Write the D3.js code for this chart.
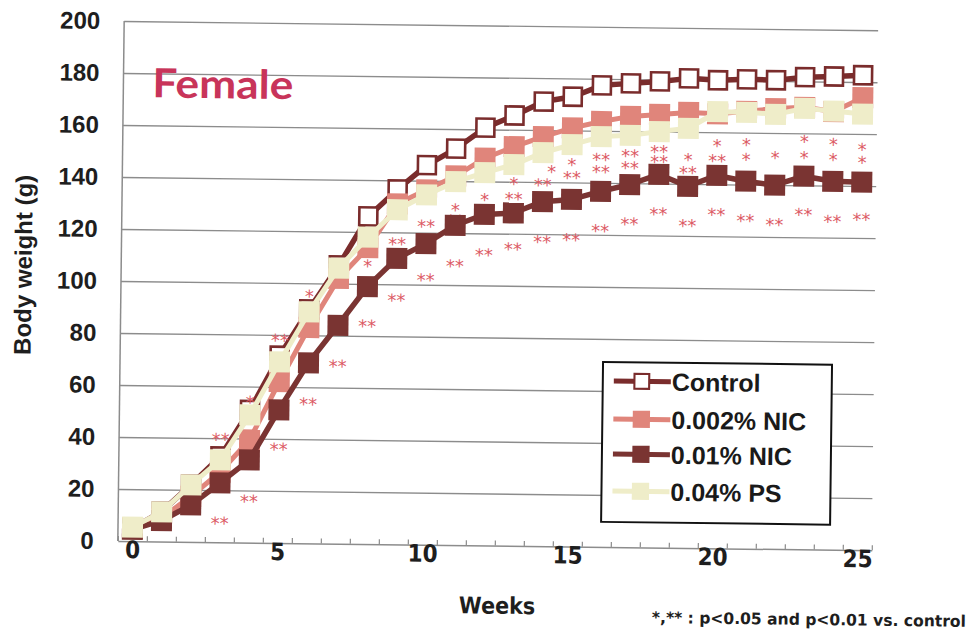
<!DOCTYPE html>
<html>
<head>
<meta charset="utf-8">
<script src="https://cdn.jsdelivr.net/npm/d3@7"></script>
<style>
  body { margin: 0; background: #fff; }
  svg { display: block; }
</style>
</head>
<body>
<svg id="chart" width="977" height="633"></svg>
<script>
// ---- data: female body weight (g) by week ----
const weeks = d3.range(0, 26);
const control = [5, 11.5, 22, 33, 51, 72, 90, 107, 126, 136.5, 146, 152.5, 160.7, 165.5, 171, 173,
                 177.5, 178.4, 179.3, 180.6, 180, 180.5, 180.3, 181.6, 182, 182.6];
const nic002  = [5, 9, 17.5, 27, 39.5, 62, 83, 102, 114, 131, 136.5, 142, 149, 153.5, 157.5, 161,
                 163.6, 165.7, 166.6, 167.5, 167.1, 168.2, 169.4, 170, 168.5, 174];
const nic01   = [4.5, 8, 14.2, 22.8, 31.8, 51.2, 69.4, 84, 99, 110, 115.8, 123, 127.3, 128, 132.5, 133.5,
                 136.7, 139.5, 143.5, 139.1, 143.4, 141.3, 139.9, 143.5, 141.7, 141.5];
const ps004   = [5.4, 11.4, 21.9, 31.7, 49.1, 69.6, 89, 106, 118, 128.7, 134.6, 139.8, 143.4, 146.6, 151.4,
                 154.6, 157.8, 158.4, 160, 161.4, 167.9, 167.8, 167.2, 169.6, 168.7, 167.7];
const seriesNames = ["Control", "0.002% NIC", "0.01% NIC", "0.04% PS"];

const yTicks = d3.range(0, 201, 20);
const xTickLabels = [0, 5, 10, 15, 20, 25];

// significance marks vs. control: week, height (g), label
const starWeeks  = [3, 3, 4, 4, 5, 5, 6, 6, 7, 8, 8, 9, 9, 10, 10, 11, 11, 11, 12, 12, 13, 13, 13,
                    14, 14, 14.3, 15, 15, 15, 16, 16, 16, 17, 17, 17, 18, 18, 18, 19, 19, 19,
                    20, 20, 20, 21, 21, 21, 22, 22, 23, 23, 23, 24, 24, 24, 25, 25, 25];
const starValues = [8.6, 40.8, 17.2, 55.3, 37.3, 79.2, 54.8, 96.3, 69.5, 85.1, 108.2, 95.2, 116.8, 103.1, 123.8,
                    108.6, 125.9, 130.2, 113, 134.2, 115.4, 134.7, 140.5,
                    118.3, 140.2, 145.3, 119.2, 143.1, 148.1, 122.8, 145.5, 150.2, 125.6, 147.2, 151.8,
                    129.6, 149.7, 153.5, 125.2, 145.6, 150.6, 129.6, 150.3, 156.1, 127.4, 150.9, 156.6,
                    126, 151.8, 130, 151.9, 158.1, 127.5, 151.3, 157.1, 128.4, 150.3, 155.3];
const starLabels = ["**", "**", "**", "*", "**", "**", "**", "*", "**", "**", "*", "**", "**", "**", "**",
                    "**", "**", "*", "**", "*", "**", "**", "*",
                    "**", "**", "*", "**", "**", "*", "**", "**", "**", "**", "**", "**",
                    "**", "**", "**", "**", "**", "*", "**", "**", "*", "**", "*", "*",
                    "**", "*", "**", "*", "*", "**", "*", "*", "**", "*", "*"];

// ---- layout ----
const plot = { left: 121, right: 875, top: 21, bottom: 541 };
const x = d3.scaleLinear().domain([-0.5, 25.5]).range([plot.left, plot.right]);
const y = d3.scaleLinear().domain([0, 200]).range([plot.bottom, plot.top]);

const svg = d3.select("#chart");
svg.append("rect").attr("width", 977).attr("height", 633).attr("fill", "#fff");
const g = svg.append("g").attr("transform", "rotate(0.7,121,281)");

const boldSans = "'Liberation Sans', Arial, sans-serif";
const narrow = "'Liberation Sans Narrow', 'DejaVu Sans Condensed', 'Liberation Sans', sans-serif";

// gridlines
const grid = g.append("g").attr("transform", `translate(${plot.left},0)`)
  .call(d3.axisLeft(y).tickValues(yTicks.filter(v => v > 0))
        .tickSize(-(plot.right - plot.left)).tickFormat(""));
grid.select(".domain").remove();
grid.selectAll("line").attr("stroke", "#8c8c8c").attr("stroke-width", 1.3);

// left axis line
g.append("line").attr("x1", plot.left).attr("x2", plot.left)
  .attr("y1", plot.top).attr("y2", plot.bottom)
  .attr("stroke", "#8c8c8c").attr("stroke-width", 1.5);

// y tick labels
const yAx = g.append("g").attr("transform", `translate(${plot.left},0)`)
  .call(d3.axisLeft(y).tickValues(yTicks).tickSize(0).tickPadding(24));
yAx.select(".domain").remove();
yAx.selectAll("text").attr("font-family", boldSans).attr("font-weight", "bold")
  .attr("font-size", 24).attr("fill", "#1e1e1e");

// bottom axis with category ticks
const xMinor = g.append("g").attr("transform", `translate(0,${plot.bottom})`)
  .call(d3.axisBottom(x).tickValues(d3.range(-0.5, 25.6, 1))
        .tickSizeInner(-5).tickSizeOuter(0).tickFormat(""));
xMinor.select(".domain").attr("stroke", "#8c8c8c").attr("stroke-width", 1.5);
xMinor.selectAll("line").attr("stroke", "#8c8c8c").attr("stroke-width", 1.2);

// x tick labels
const xAx = g.append("g").attr("transform", `translate(0,${plot.bottom})`)
  .call(d3.axisBottom(x).tickValues(xTickLabels).tickSize(0).tickPadding(0));
xAx.select(".domain").remove();
xAx.selectAll("text").attr("font-family", narrow).attr("font-weight", "bold")
  .attr("font-size", 24).attr("fill", "#1e1e1e");

// axis titles and notes
g.append("text").attr("transform", "translate(23,266) rotate(-90)")
  .attr("text-anchor", "middle").attr("dominant-baseline", "central")
  .attr("font-family", boldSans).attr("font-weight", "bold").attr("font-size", 24)
  .attr("fill", "#1e1e1e").text("Body weight (g)");

g.append("text").attr("x", 501).attr("y", 601)
  .attr("text-anchor", "middle").attr("dominant-baseline", "central")
  .attr("font-family", narrow).attr("font-weight", "bold").attr("font-size", 23)
  .attr("fill", "#1e1e1e").text("Weeks");

g.append("text").attr("x", 656).attr("y", 611)
  .attr("dominant-baseline", "central")
  .attr("font-family", narrow).attr("font-weight", "bold").attr("font-size", 16)
  .attr("textLength", 314).attr("lengthAdjust", "spacingAndGlyphs")
  .attr("fill", "#1e1e1e").text("*,** : p<0.05 and p<0.01 vs. control");

g.append("text").attr("x", 150).attr("y", 97)
  .attr("font-family", "Lato, 'Open Sans', sans-serif").attr("font-weight", "bold")
  .attr("font-size", 40).attr("textLength", 141).attr("lengthAdjust", "spacingAndGlyphs")
  .attr("fill", "#c8345a").text("Female");

// ---- series ----
const series = [
  { name: seriesNames[0], values: control, line: "#7a2c2c", fill: "#ffffff", stroke: "#7a2c2c", size: 18, sw: 2.6, lw: 5.5 },
  { name: seriesNames[1], values: nic002,  line: "#e0857b", fill: "#e0857b", stroke: "none",    size: 21, sw: 0,   lw: 5 },
  { name: seriesNames[2], values: nic01,   line: "#7a3432", fill: "#7a3432", stroke: "none",    size: 21, sw: 0,   lw: 5.5 },
  { name: seriesNames[3], values: ps004,   line: "#efedc9", fill: "#efedc9", stroke: "none",    size: 21, sw: 0,   lw: 5 }
];

const line = d3.line().x((d, i) => x(weeks[i])).y(d => y(d));

function drawSeries(s) {
  const sg = g.append("g");
  sg.append("path").datum(s.values).attr("d", line)
    .attr("fill", "none").attr("stroke", s.line).attr("stroke-width", s.lw)
    .attr("stroke-linejoin", "round");
  sg.selectAll("rect").data(s.values).join("rect")
    .attr("x", (d, i) => x(weeks[i]) - s.size / 2)
    .attr("y", d => y(d) - s.size / 2)
    .attr("width", s.size).attr("height", s.size)
    .attr("fill", s.fill).attr("stroke", s.stroke).attr("stroke-width", s.sw);
}

drawSeries(series[0]);
drawSeries(series[1]);

// significance marks: marks stacked at the same week share one text element
const marks = starLabels.map((t, i) => ({ w: starWeeks[i], v: starValues[i], t }))
  .sort((a, b) => a.w - b.w || a.v - b.v);
const stacks = [];
marks.forEach(m => {
  const last = stacks.length ? stacks[stacks.length - 1] : null;
  const prev = last ? last[last.length - 1] : null;
  if (prev && Math.abs(prev.w - m.w) < 0.5 && Math.abs(prev.v - m.v) < 10) last.push(m);
  else stacks.push([m]);
});
const starText = g.append("g").selectAll("text").data(stacks).join("text")
  .attr("text-anchor", "middle")
  .attr("font-family", "'DejaVu Sans', sans-serif").attr("font-size", 18)
  .attr("fill", "#dc5a64");
starText.selectAll("tspan").data(d => d).join("tspan")
  .attr("x", d => x(d.w))
  .attr("y", d => y(d.v))
  .attr("dy", "0.55em")
  .text(d => d.t);

drawSeries(series[2]);
drawSeries(series[3]);

// ---- legend ----
const lg = g.append("g");
lg.append("rect").attr("x", 604).attr("y", 356).attr("width", 229).attr("height", 160)
  .attr("fill", "#fff").attr("stroke", "#111").attr("stroke-width", 2);
const rowY = [375, 413, 448, 485];
series.forEach((s, i) => {
  const r = lg.append("g").attr("transform", `translate(0,${rowY[i]})`);
  r.append("line").attr("x1", 615).attr("x2", 672).attr("y1", 0).attr("y2", 0)
    .attr("stroke", s.line).attr("stroke-width", 5);
  const sz = s.size * 0.82;
  r.append("rect").attr("x", 643 - sz / 2).attr("y", -sz / 2).attr("width", sz).attr("height", sz)
    .attr("fill", s.fill).attr("stroke", s.stroke).attr("stroke-width", s.sw * 0.8);
  r.append("text").attr("x", 673).attr("y", 0).attr("dominant-baseline", "central")
    .attr("font-family", boldSans).attr("font-weight", "bold").attr("font-size", 25)
    .attr("fill", "#1a1a1a").text(s.name);
});
</script>
</body>
</html>
